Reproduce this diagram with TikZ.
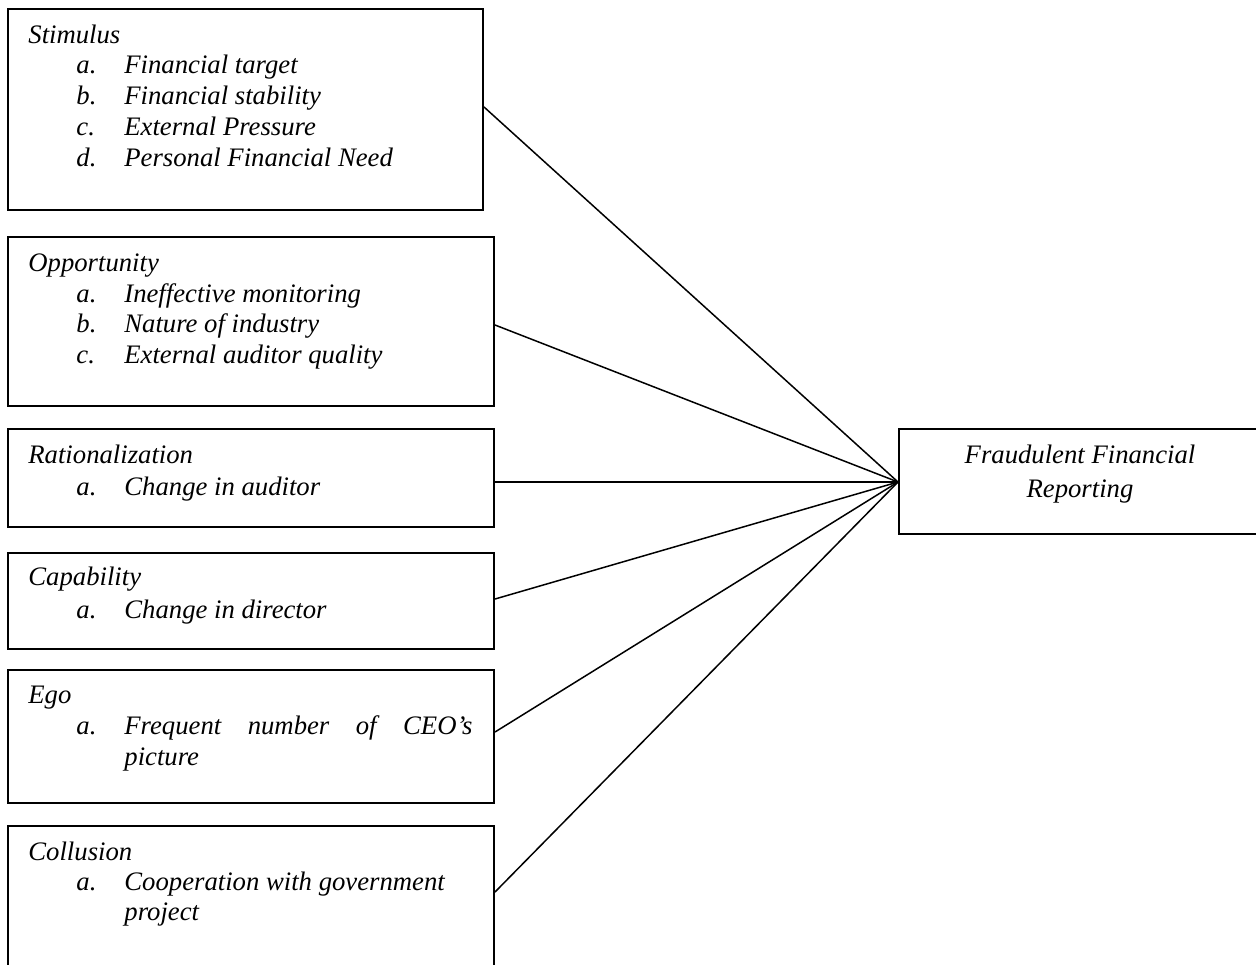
\documentclass[tikz,border=0pt]{standalone}
\usepackage{fontspec}
\setmainfont{Liberation Serif}
\usetikzlibrary{calc}
\begin{document}
\begin{tikzpicture}[x=0.5pt,y=-0.5pt,
  box/.style={draw,line width=1pt,rectangle,inner sep=0pt,anchor=north west,minimum width=243pt},
  txt/.style={inner sep=0pt,anchor=base west,font=\fontsize{13.35pt}{15.5pt}\selectfont\itshape},
  ctxt/.style={txt,anchor=base},
  link/.style={line width=0.75pt}]
\useasboundingbox (0,0) rectangle (1256,964);
\clip (0,0) rectangle (1256,964);
% boxes
\node[box,minimum width=237.5pt,minimum height=100.5pt] (stim) at (7,8) {};
\node[box,minimum height=84.5pt] (opp) at (7,236) {};
\node[box,minimum height=49pt] (rat) at (7,428) {};
\node[box,minimum height=48pt] (cap) at (7,552) {};
\node[box,minimum height=66.5pt] (ego) at (7,669) {};
\node[box,minimum height=80pt] (col) at (7,825) {};
\node[box,minimum width=182pt,minimum height=52.5pt] (tgt) at (898,428) {};
% texts
\node[txt] (t1) at (28,43) {Stimulus};
\node[txt] (t1a) at (76,73) {a.};
\node[txt] (t1at) at (124,73) {Financial target};
\node[txt] (t1b) at (76,104) {b.};
\node[txt] (t1bt) at (124,104) {Financial stability};
\node[txt] (t1c) at (76,135) {c.};
\node[txt] (t1ct) at (124,135) {External Pressure};
\node[txt] (t1d) at (76,166) {d.};
\node[txt] (t1dt) at (124,166) {Personal Financial Need};
\node[txt] (t2) at (28,271) {Opportunity};
\node[txt] (t2a) at (76,302) {a.};
\node[txt] (t2at) at (124,302) {Ineffective monitoring};
\node[txt] (t2b) at (76,332) {b.};
\node[txt] (t2bt) at (124,332) {Nature of industry};
\node[txt] (t2c) at (76,363) {c.};
\node[txt] (t2ct) at (124,363) {External auditor quality};
\node[txt] (t3) at (28,463) {Rationalization};
\node[txt] (t3a) at (76,495) {a.};
\node[txt] (t3at) at (124,495) {Change in auditor};
\node[txt] (t4) at (28,585) {Capability};
\node[txt] (t4a) at (76,618) {a.};
\node[txt] (t4at) at (124,618) {Change in director};
\node[txt] (t5) at (28,703) {Ego};
\node[txt] (t5a) at (76,734) {a.};
\node[txt] (t5at) at (124,734) {\makebox[174pt][s]{Frequent number of CEO’s}};
\node[txt] (t5at2) at (124,765) {picture};
\node[txt] (t6) at (28,860) {Collusion};
\node[txt] (t6a) at (76,890) {a.};
\node[txt] (t6at) at (124,890) {Cooperation with government};
\node[txt] (t6at2) at (124,920) {project};
\node[ctxt] (tt1) at (1080,463) {Fraudulent Financial};
\node[ctxt] (tt2) at (1080,497) {Reporting};
% connectors
\coordinate (hub) at ($(tgt.north west)+(0,54)$);
\draw[link] ($(stim.north east)+(0,99)$) -- (hub);
\draw[link] ($(opp.north east)+(0,89)$) -- (hub);
\draw[link] ($(rat.north east)+(0,54)$) -- (hub);
\draw[link] ($(cap.north east)+(0,47)$) -- (hub);
\draw[link] ($(ego.north east)+(0,63)$) -- (hub);
\draw[link] ($(col.north east)+(0,67)$) -- (hub);
\end{tikzpicture}
\end{document}
